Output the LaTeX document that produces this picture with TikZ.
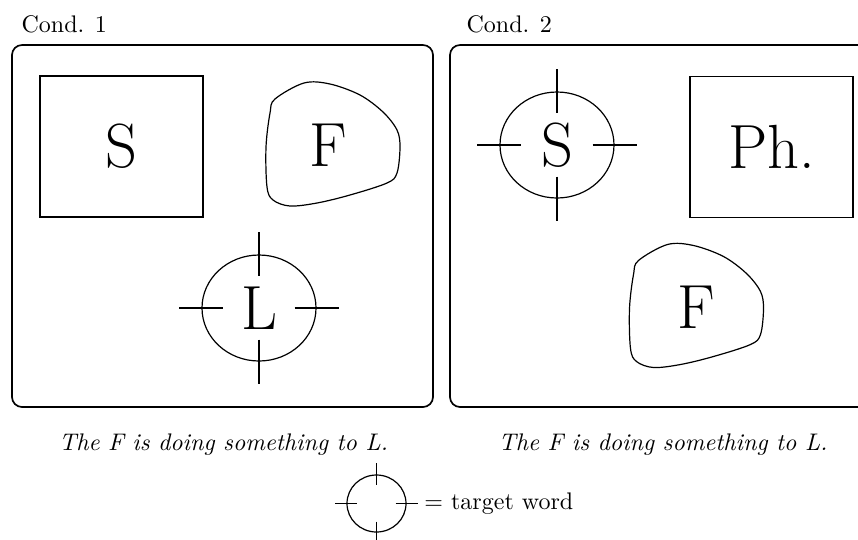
\documentclass[tikz,border=0pt]{standalone}
\usepackage{fontspec}
\usetikzlibrary{positioning, calc, shapes.geometric}

\newdimen\pxu \pxu=0.41667pt

\tikzset{
  panel/.style={draw, rounded corners=10\pxu, line width=0.7pt, minimum width=421\pxu, minimum height=362\pxu, inner sep=0pt},
  bigletter/.style={font=\fontsize{26}{30}\selectfont, inner sep=0pt},
  wordbox/.style={bigletter, draw, line width=0.5pt, minimum width=163\pxu, minimum height=141\pxu},
  target/.style={bigletter, draw, ellipse, line width=0.5pt, minimum width=114\pxu, minimum height=106\pxu},
  sentence/.style={font=\itshape, anchor=base},
}

% ticks across the four sides of a target node
\newcommand{\crosshair}[2]{%
  \draw[line width=0.5pt] ($(#1.west)+(-#2,0)$) -- ++(2*#2,0);
  \draw[line width=0.5pt] ($(#1.east)+(-#2,0)$) -- ++(2*#2,0);
  \draw[line width=0.5pt] ($(#1.north)+(0,-#2)$) -- ++(0,2*#2);
  \draw[line width=0.5pt] ($(#1.south)+(0,-#2)$) -- ++(0,2*#2);
}

% outline of the F blob
\newcommand{\blobat}[1]{%
  \draw[line width=0.5pt, shift={(#1)}] plot[smooth cycle, tension=0.55] coordinates
    {(-58,-46) (-29,-62) (-3,-61) (27,-50) (50,-33) (64,-15) (67,2) (64,28) (54,38)
     (17,50) (-16,58) (-43,61) (-60,55) (-66,42) (-67,2) (-63,-32)};
}

\begin{document}
\begin{tikzpicture}[x=0.41667pt, y=-0.41667pt]
  \useasboundingbox (0,0) rectangle (858,539);
  \clip (0,0) rectangle (858,539);

  % the two conditions
  \node[panel] (cond1) at (222.5,226) {};
  \node[panel] (cond2) at (660.5,226) {};
  \node[anchor=base west, inner sep=0pt] (cond1lbl) at ($(cond1.north west)+(10,-12)$) {Cond. 1};
  \node[anchor=base west, inner sep=0pt] (cond2lbl) at ($(cond2.north west)+(17,-12)$) {Cond. 2};

  % condition 1
  \node[wordbox] (sbox) at (121.5,146.5) {S};
  \node[bigletter] (f1) at (328,145) {F};
  \blobat{333,145}
  \node[target] (tL) at (259,308) {L};
  \crosshair{tL}{22}

  % condition 2
  \node[target] (tS) at (557,145) {S};
  \crosshair{tS}{22}
  \node[wordbox] (phbox) at (771.5,147) {Ph.};
  \node[bigletter] (f2) at (696,307.5) {F};
  \blobat{696.5,306.5}

  \node[sentence] (cap1) at ($(cond1.south)+(1,43)$) {The F is doing something to L.};
  \node[sentence] (cap2) at ($(cond2.south)+(2.5,43)$) {The F is doing something to L.};

  % legend
  \node[target, minimum width=59\pxu, minimum height=57\pxu] (key) at (376.5,503.5) {};
  \crosshair{key}{11}
  \node[right=6.25pt of key, inner sep=1pt] (keylbl) {$=$ target word};
\end{tikzpicture}
\end{document}
